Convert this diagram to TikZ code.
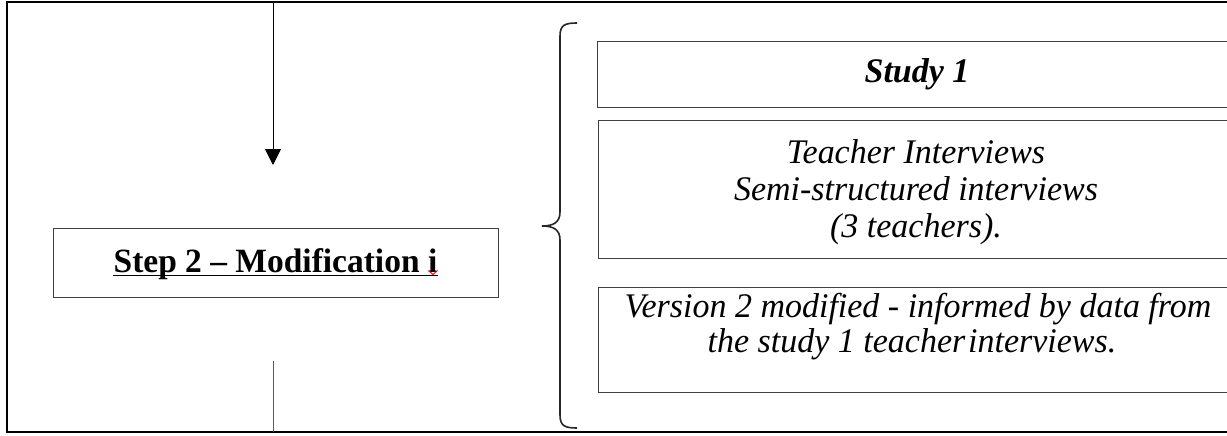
\documentclass[tikz,border=0pt]{standalone}
\usepackage{fontspec}
\setmainfont{Liberation Serif}[FakeStretch=0.985]
\usetikzlibrary{arrows.meta}
\begin{document}
\begin{tikzpicture}[x=1pt,y=-1pt,
  panel/.style={draw=black!75, line width=1.3pt, inner sep=0pt, anchor=north west},
  itxt/.style={inner sep=0pt, anchor=base, font=\fontsize{34.5}{37}\selectfont\itshape},
  btxt/.style={inner sep=0pt, anchor=base, font=\fontsize{34.5}{37}\selectfont\bfseries},
  link/.style={line width=1pt},
]
\useasboundingbox (0,0) rectangle (1227,436);
\clip (0,0) rectangle (1227,436);

% outer frame, running on past the right edge
\draw[line width=2pt] (1240,2) -- (7,2) -- (7,432) -- (1240,432);

% incoming arrow from above
\coordinate (arrtop) at (273,2);
\coordinate (arrtip) at (273,165);
\draw[link, -{Triangle[width=16pt,length=16pt]}] (arrtop) -- (arrtip);

% step box
\node[panel, minimum width=445pt, minimum height=69pt] (s2box) at (53,228) {};
\node[btxt, font=\fontsize{34}{37}\selectfont\bfseries] (s2text) at (275.5,272) {Step 2 -- Modification i};
\draw[line width=1.4pt] ([yshift=-3.5pt]s2text.base west) -- ([yshift=-3.5pt]s2text.base east);
% spell-check mark under the last letter
\draw[red, line width=1pt] (428.5,270.5) -- (433,274.5) -- (437.5,270.5);

% outgoing line below the step box
\coordinate (lntop) at (273,361);
\coordinate (lnbot) at (273,432);
\draw[link, black!65] (lntop) -- (lnbot);

% curly brace grouping the study boxes
\draw[line width=1.6pt, black!85]
  (577,23) .. controls (565,23) and (560,25) .. (560,36)
  -- (560,212) .. controls (560,222) and (554,226) .. (542,226)
  .. controls (554,226) and (560,230) .. (560,240)
  -- (560,415) .. controls (560,426) and (565,428) .. (577,428);

% study boxes
\node[panel, minimum width=660pt, minimum height=66pt]  (b1) at (597,41) {};
\node[panel, minimum width=660pt, minimum height=138pt] (b2) at (598,120) {};
\node[panel, minimum width=660pt, minimum height=105pt] (b3) at (598,287) {};

\node[itxt] (t1) at (917,83) {\textbf{Study 1}};
\node[itxt] (t2a) at (916,163) {Teacher Interviews};
\node[itxt] (t2b) at (916,200) {Semi-structured interviews};
\node[itxt] (t2c) at (916,237) {(3 teachers).};
\node[itxt] (t3a) at (918,317) {Version 2 modified - informed by data from};
\node[itxt] (t3b) at (912,352) {the study 1 teacher\hspace{0.08em}interviews.};
\end{tikzpicture}
\end{document}
